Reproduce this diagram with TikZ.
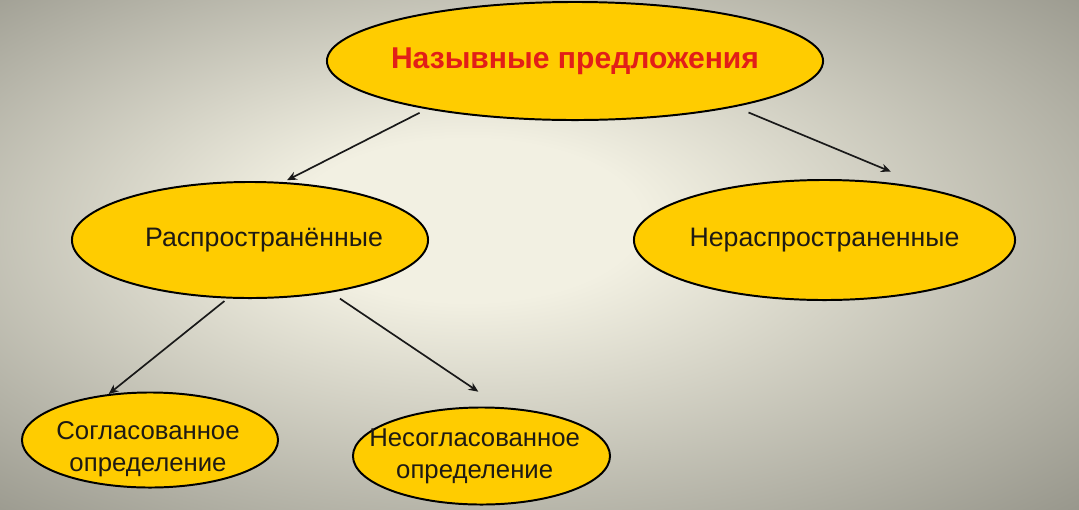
\documentclass[tikz,border=0pt]{standalone}
\usepackage{fontspec}
\setmainfont{Liberation Sans}
\usetikzlibrary{shapes.geometric, arrows.meta}
\definecolor{ovalfill}{RGB}{255,204,0}
\definecolor{titlered}{RGB}{226,30,24}
\definecolor{textdark}{RGB}{30,26,20}
\definecolor{bginner}{RGB}{242,240,226}
\definecolor{bgouter}{RGB}{152,151,140}
\pgfdeclareradialshading{bgshade}{\pgfpoint{-4bp}{4bp}}{color(0bp)=(bginner); color(8bp)=(bginner); color(37bp)=(bgouter); color(50bp)=(bgouter)}

\begin{document}
\begin{tikzpicture}[x=0.025cm, y=-0.025cm,
        oval/.style={ellipse, draw=black, line width=1.4pt, fill=ovalfill, inner sep=0pt},
        titlefont/.style={text=titlered, font=\fontsize{21.4}{26}\selectfont\bfseries},
        midfont/.style={text=textdark, font=\fontsize{19}{23}\selectfont},
        lowfont/.style={text=textdark, align=center, font=\fontsize{18.3}{22.7}\selectfont},
        link/.style={-{Stealth[length=7pt, width=6pt]}, line width=1.2pt, draw=black!90}]
        \shade[shading=bgshade] (0,0) rectangle (1079,509);
        \useasboundingbox (0,0) rectangle (1079,509);

        \node[oval, minimum width=12.4cm, minimum height=2.95cm, label={[titlefont]center:Назывные предложения}] (NP) at (575,61) {};
        \node[oval, minimum width=8.9cm, minimum height=2.9cm, label={[midfont, xshift=0.35cm]center:Распространённые}] (RS) at (250,240) {};
        \node[oval, minimum width=9.525cm, minimum height=3cm, label={[midfont]center:Нераспространенные}] (NRS) at (824.5,240) {};
        \node[oval, minimum width=6.4cm, minimum height=2.375cm, label={[lowfont, yshift=-0.22cm, xshift=-0.05cm]center:{Согласованное\\определение}}] (SO) at (150,440) {};
        \node[oval, minimum width=6.425cm, minimum height=2.425cm, label={[lowfont, xshift=-0.17cm]center:{Несогласованное\\определение}}] (NSO) at (481.5,456) {};

        \draw [link, shorten <=0.2cm, shorten >=0.1cm] (NP.198) -- (RS.60);
        \draw [link, shorten <=0.36cm, shorten >=1.22cm] (NP.-16) -- (NRS.24);
        \draw [link, shorten <=0.1cm] (RS.249) -- (SO.132);
        \draw [link, shorten <=0.27cm, shorten >=0.69cm] (RS.-33) -- (NSO.68);
    \end{tikzpicture}
\end{document}
